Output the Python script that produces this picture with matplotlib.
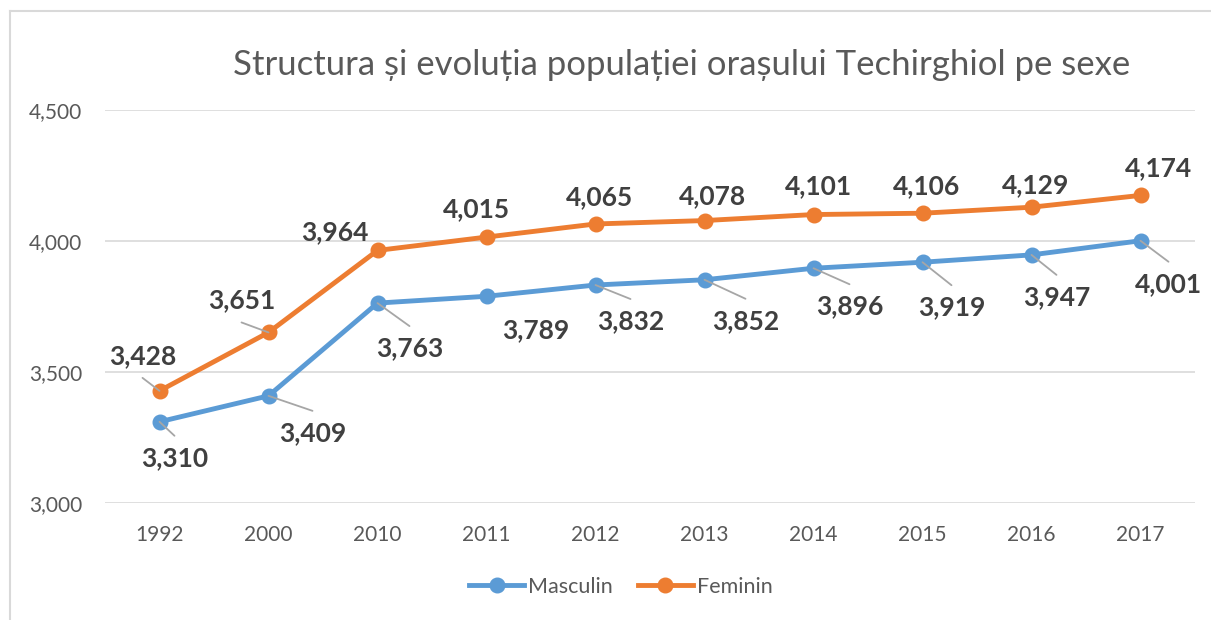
import matplotlib
matplotlib.use("Agg")
import matplotlib.pyplot as plt
from matplotlib.lines import Line2D

plt.rcParams['font.family'] = ['Lato', 'DejaVu Sans']

years = ["1992", "2000", "2010", "2011", "2012", "2013", "2014", "2015", "2016", "2017"]
masculin = [3310, 3409, 3763, 3789, 3832, 3852, 3896, 3919, 3947, 4001]
feminin = [3428, 3651, 3964, 4015, 4065, 4078, 4101, 4106, 4129, 4174]
yticks = [3000, 3500, 4000, 4500]
title = "Structura și evoluția populației orașului Techirghiol pe sexe"

# label offsets (pixels) relative to each point, and whether a leader line is shown
masc_off = [(15, -36), (44, -37), (32, -45), (49, -34), (35, -36), (41, -41), (36, -38), (29, -45), (25, -42), (28, -43)]
masc_lead = [True, True, True, False, True, True, True, True, True, True]
fem_off = [(-17, 35), (-27, 32), (-43, 18), (-10, 28), (4, 27), (8, 24), (5, 28), (4, 27), (4, 22), (18, 27)]
fem_lead = [True, True, False, False, False, False, False, False, False, False]

BLUE = "#5B9BD5"
ORANGE = "#ED7D31"
GRID = "#D9D9D9"
TXT = "#595959"
LBL = "#404040"

W, H = 1211, 620
fig = plt.figure(figsize=(W / 100, H / 100), dpi=100)
ax = fig.add_axes([105 / W, 1 - 503 / H, (1195 - 105) / W, (503 - 110) / H])

x = list(range(len(years)))
ax.plot(x, masculin, color=BLUE, lw=3.5, marker='o', ms=10.5, solid_capstyle='round', zorder=3, label="Masculin")
ax.plot(x, feminin, color=ORANGE, lw=3.5, marker='o', ms=10.5, solid_capstyle='round', zorder=3, label="Feminin")

ax.set_xlim(-0.5, len(years) - 0.5)
ax.set_ylim(yticks[0], yticks[-1])
ax.set_yticks(yticks)
ax.set_yticklabels([f"{v:,}" for v in yticks])
ax.set_xticks(x)
ax.set_xticklabels(years)
ax.grid(axis='y', color=GRID, lw=1.2)
ax.set_axisbelow(True)
for s in ax.spines.values():
    s.set_visible(False)
ax.tick_params(length=0, labelsize=15, colors=TXT, pad=16)
ax.tick_params(axis='y', pad=16.5)


def add_labels(values, offs, leads):
    for i, v in enumerate(values):
        dx, dy = offs[i]
        ax.annotate(f"{v:,}", xy=(i, v), xytext=(dx, dy), textcoords='offset pixels',
                    ha='center', va='center', fontsize=19, fontweight='bold', color=LBL, zorder=5)
        if leads[i]:
            ly = dy + 22 if dy < 0 else dy - 22
            ax.annotate("", xy=(i, v), xytext=(dx, ly), textcoords='offset pixels',
                        arrowprops=dict(arrowstyle='-', color="#A6A6A6", lw=1.3, shrinkA=0, shrinkB=0),
                        zorder=4)


add_labels(masculin, masc_off, masc_lead)
add_labels(feminin, fem_off, fem_lead)

fig.text(682 / W, 1 - 65 / H, title, ha='center', va='center', fontsize=25, color=TXT)

leg = fig.legend(handles=[Line2D([], [], color=BLUE, lw=3.5, marker='o', ms=10.5),
                          Line2D([], [], color=ORANGE, lw=3.5, marker='o', ms=10.5)],
                 labels=["Masculin", "Feminin"], loc='center', bbox_to_anchor=(621 / W, 1 - 587 / H),
                 ncol=2, frameon=False, fontsize=15.5, handlelength=2.55, handletextpad=0.2,
                 columnspacing=1.15, labelcolor=TXT)

# chart border (top and left edges visible)
fig.add_artist(Line2D([10 / W, 10 / W], [0, 1 - 11 / H], color=GRID, lw=1.5))
fig.add_artist(Line2D([10 / W, 1], [1 - 11 / H, 1 - 11 / H], color=GRID, lw=1.5))

fig.savefig("out.png", dpi=100, facecolor='white')
